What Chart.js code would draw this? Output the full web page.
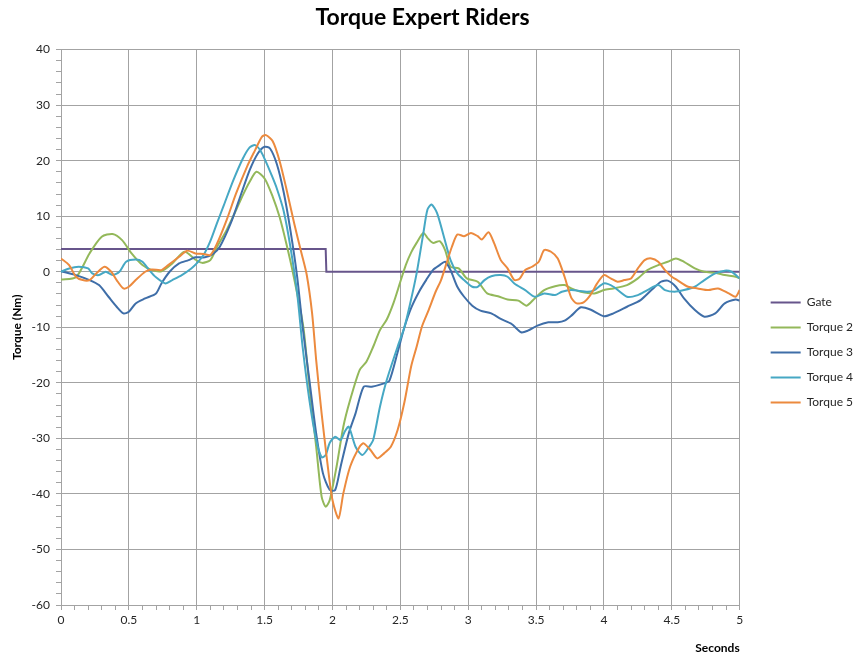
<!DOCTYPE html>
<html>
<head>
<meta charset="utf-8">
<script src="https://cdn.jsdelivr.net/npm/chart.js@4.4.1/dist/chart.umd.min.js"></script>
<style>
  html,body{margin:0;padding:0;background:#fff;}
  #wrap{width:853px;height:655px;}
</style>
</head>
<body>
<div id="wrap"><canvas id="c" width="853" height="655"></canvas></div>
<script>
// gate signal: 4.1 until ~1.95 s, then 0
const tGate = [0, 1.95, 1.955, 5];
const gate  = [4.1, 4.1, 0, 0];

// Torque 2
const t2 = [0,0.11,0.21,0.3,0.38, 0.45,0.52,0.6,0.67,0.74, 0.82,0.91,0.99,1.04,1.1, 1.15,1.22,1.29,1.34,1.39,
  1.44,1.5,1.56,1.61,1.66, 1.71,1.785,1.83,1.88,1.92, 1.95,1.98,2.03,2.08,2.13, 2.2,2.25,2.3,2.35,2.4,
  2.45,2.5,2.54,2.58,2.62, 2.67,2.7,2.74,2.79,2.83, 2.87,2.93,2.99,3.07,3.14, 3.22,3.29,3.37,3.43,3.49,
  3.56,3.64,3.71,3.76,3.83, 3.93,4.0,4.07,4.17,4.25, 4.32,4.4,4.47,4.53,4.59, 4.67,4.74,4.82,4.89,4.97, 5.0];
const torque2 = [-1.4,-1,3.3,6.3,6.8, 5.7,3.3,1.2,0.3,0.1, 1.5,3.6,2.2,1.6,2.1, 4.5,7.5,11.1,13.8,16.2,
  18.0,16.8,13.5,9.9,5.1, -0.3,-9.9,-20.7,-31.5,-40.5, -42.3,-41.1,-35.1,-27.9,-23.1, -17.7,-16.2,-13.5,-10.5,-8.6,
  -5.6,-1.8,1.2,3.5,5.2, 7.0,6.1,5.2,5.5,3.9, 0.9,0.6,-1.2,-1.8,-3.9, -4.4,-5.0,-5.2,-6.1,-4.8,
  -3.3,-2.6,-2.4,-3.0,-3.6, -3.9,-3.3,-3.0,-2.4,-1.2, 0.3,1.2,1.8,2.4,1.8, 0.6,0,-0.2,-0.6,-0.9, -1.2];

// Torque 3
const t3 = [0,0.11,0.21,0.28,0.35, 0.41,0.46,0.5,0.55,0.62, 0.7,0.74,0.8,0.87,0.94, 0.99,1.06,1.12,1.17,1.25,
  1.32,1.39,1.45,1.5,1.54, 1.59,1.64,1.69,1.74,1.78, 1.83,1.88,1.93,1.98,2.02, 2.06,2.12,2.17,2.23,2.29,
  2.38,2.42,2.48,2.53,2.58, 2.64,2.69,2.74,2.79,2.83, 2.87,2.92,2.97,3.03,3.09, 3.17,3.24,3.32,3.39,3.44,
  3.51,3.59,3.66,3.71,3.76, 3.83,3.9,4.0,4.07,4.17, 4.27,4.35,4.42,4.47,4.53, 4.59,4.67,4.74,4.82,4.89, 4.97,5.0];
const torque3 = [0.1,-0.6,-1.5,-2.4,-4.5, -6.3,-7.5,-7.2,-5.7,-4.8, -3.9,-2.1,0,1.5,2.1, 2.6,2.6,3.2,4.5,8.7,
  13.5,18.3,21.3,22.5,22.2, 19.4,14.4,7.5,-0.9,-9.9, -19.5,-29.1,-36.3,-39.3,-39.3, -35.1,-29.1,-25.5,-20.7,-20.7,
  -20.1,-19.6,-14.5,-10,-6.5, -3.5,-1.5,0.3,1.2,1.8, 0.3,-2.7,-4.5,-6.1,-7.0, -7.5,-8.5,-9.4,-10.9,-10.6,
  -9.7,-9.1,-9.1,-8.8,-7.9, -6.4,-6.8,-8.0,-7.5,-6.3, -5.1,-3.3,-1.8,-1.6,-2.7, -4.8,-6.9,-8.1,-7.5,-5.7, -5.0,-5.2];

// Torque 4
const t4 = [0,0.06,0.13,0.2,0.23, 0.28,0.33,0.38,0.43,0.48, 0.55,0.6,0.65,0.7,0.77, 0.82,0.89,0.96,1.0,1.05,
  1.1,1.15,1.2,1.27,1.34, 1.39,1.43,1.47,1.51,1.55, 1.59,1.64,1.69,1.74,1.78, 1.83,1.88,1.92,1.95,1.98,
  2.02,2.06,2.09,2.12,2.17, 2.22,2.27,2.3,2.35,2.4, 2.48,2.53,2.57,2.62,2.67, 2.7,2.73,2.77,2.82,2.87,
  2.92,2.97,3.03,3.07,3.12, 3.17,3.24,3.29,3.34,3.42, 3.49,3.56,3.64,3.69,3.76, 3.88,3.93,4.0,4.07,4.17,
  4.25,4.32,4.4,4.45,4.52, 4.59,4.67,4.74,4.82,4.89, 4.94,5.0];
const torque4 = [0,0.6,0.9,0.6,-0.3, -0.6,0,-0.6,0,1.8, 2.2,1.8,0.3,-1.0,-2.1, -1.5,-0.6,0.6,1.5,3.0,
  5.5,8.8,12.0,16.5,20.4, 22.4,22.8,21.8,19.8,17.5, 15.0,11.0,4.5,-3.9,-13.5, -23.1,-30.3,-33.4,-33.0,-30.8,
  -29.7,-30.3,-28.8,-27.9,-31.5, -33.0,-31.5,-30.3,-24.3,-19.5, -13.5,-10,-6,-0.3,7.0, 11.2,12.1,10.6,6.4,2.1,
  -0.3,-1.5,-2.7,-2.7,-1.5, -0.8,-0.6,-0.9,-2.1,-3.3, -4.5,-3.9,-4.2,-3.6,-3.3, -3.6,-3.3,-2.1,-2.7,-4.5,
  -4.2,-3.3,-2.4,-3.3,-3.6, -3.3,-2.7,-1.5,-0.3,0.2, 0,-1.2];

// Torque 5
const t5 = [0,0.06,0.11,0.16,0.21, 0.26,0.32,0.37,0.41,0.46, 0.5,0.55,0.62,0.67,0.74, 0.79,0.87,0.93,0.99,1.05,
  1.1,1.15,1.22,1.29,1.37, 1.43,1.48,1.51,1.56,1.61, 1.66,1.72,1.77,1.81,1.85, 1.88,1.92,1.96,2.0,2.045,
  2.08,2.13,2.2,2.23,2.28, 2.33,2.38,2.43,2.48,2.53, 2.58,2.62,2.66,2.71,2.76, 2.8,2.84,2.88,2.92,2.97,
  3.02,3.07,3.1,3.15,3.19, 3.24,3.29,3.34,3.38,3.42, 3.47,3.52,3.56,3.61,3.66, 3.71,3.76,3.8,3.85,3.9,
  3.95,4.0,4.05,4.1,4.15, 4.2,4.25,4.3,4.35,4.4, 4.45,4.5,4.54,4.62,4.69, 4.77,4.84,4.92,4.97,5.0];
const torque5 = [2.4,1.2,-0.9,-1.5,-1.5, -0.3,0.9,0,-1.5,-3.0, -2.7,-1.5,0,0.4,0.3, 1.2,2.7,3.8,3.3,3.2,
  3.0,5.1,9.3,14.1,18.9, 21.9,24.3,24.6,23.5,20.0, 15.0,8.5,3.5,-0.5,-7.5, -15.9,-25.5,-33.9,-41.1,-44.4,
  -39.9,-35.1,-31.5,-30.9,-32.1, -33.6,-32.7,-31.5,-28.5,-23.5, -17,-13.5,-9.8,-6.8,-3.6, -1.5,1.5,4.5,6.7,6.4,
  7.0,6.4,5.8,7.1,5.2, 2.1,0.6,-1.5,-1.2,0.3, 0.9,1.8,3.9,3.6,2.4, -0.9,-4.7,-5.7,-5.5,-4.2,
  -2.1,-0.6,-1.2,-1.8,-1.5, -1.2,0.6,2.1,2.4,1.8, 0.3,-0.9,-1.5,-2.7,-3.0, -3.3,-3.0,-3.9,-4.5,-3.3];

const yTicks = {min:-60, max:40, major:10, minor:2};
const xTicks = {min:0, max:5, major:0.5, minor:0.1};

function pts(ts, vs){ return ts.map((t,i)=>({x:t, y:vs[i]})); }

function isMajor(v, step){
  const r = v/step;
  return Math.abs(r - Math.round(r)) < 1e-6;
}

const FONT = 'Lato, "Open Sans", sans-serif';
const GRID = '#a3a3a3';
Chart.defaults.font.family = FONT;
Chart.defaults.color = '#262626';

function line(label, data, color, order, tension){
  return {
    label, data, order,
    borderColor: color, backgroundColor: color,
    borderWidth: 2, pointRadius: 0, tension: tension
  };
}

// nudge the legend to the right edge, chart area stays where it is
const legendShift = {
  id: 'legendShift',
  afterLayout(chart){
    const lg = chart.legend;
    if(lg){ lg.left += 18; lg.right += 18; }
  }
};

new Chart(document.getElementById('c'), {
  type: 'line',
  data: {
    datasets: [
      line('Gate', pts(tGate, gate), '#67558b', 4, 0),
      line('Torque 2', pts(t2, torque2), '#93b85a', 3, 0.25),
      line('Torque 3', pts(t3, torque3), '#3f6ea8', 2, 0.25),
      line('Torque 4', pts(t4, torque4), '#46a8c4', 1, 0.25),
      line('Torque 5', pts(t5, torque5), '#ec8a3e', 0, 0.25)
    ]
  },
  plugins: [legendShift],
  options: {
    responsive: false,
    animation: false,
    layout: {padding: {top: 0, right: 8, bottom: 0, left: 0}},
    plugins: {
      title: {
        display: true,
        text: 'Torque Expert Riders',
        color: '#000',
        font: {size: 23, weight: 'bold', family: FONT},
        padding: {top: 4, bottom: 18}
      },
      legend: {
        position: 'right',
        title: {display: true, text: ' ', font: {size: 10}, padding: {top: 0, bottom: 38}},
        labels: {
          usePointStyle: true,
          pointStyle: 'line',
          pointStyleWidth: 30,
          boxHeight: 12,
          padding: 13,
          color: '#262626',
          font: {size: 12, family: FONT},
          sort: (a, b) => a.datasetIndex - b.datasetIndex
        }
      },
      tooltip: {enabled: false}
    },
    scales: {
      x: {
        type: 'linear',
        min: xTicks.min, max: xTicks.max,
        afterFit(s){ s.height = 50; },
        border: {color: GRID},
        grid: {
          color: c => isMajor(c.tick.value, xTicks.major) ? GRID : 'rgba(0,0,0,0)',
          tickColor: GRID,
          tickLength: 5
        },
        ticks: {
          stepSize: xTicks.minor,
          autoSkip: false,
          maxRotation: 0,
          padding: 3,
          color: '#262626',
          font: {size: 12},
          callback: v => isMajor(v, xTicks.major) ? String(Math.round(v*10)/10) : ''
        },
        title: {
          display: true,
          text: 'Seconds',
          align: 'end',
          color: '#000',
          font: {size: 12, weight: 'bold'},
          padding: {top: 3, bottom: 0}
        }
      },
      y: {
        min: yTicks.min, max: yTicks.max,
        afterFit(s){ s.width = 61; },
        border: {color: GRID},
        grid: {
          color: c => isMajor(c.tick.value, yTicks.major) ? GRID : 'rgba(0,0,0,0)',
          tickColor: GRID,
          tickLength: 5
        },
        ticks: {
          stepSize: yTicks.minor,
          autoSkip: false,
          padding: 6,
          color: '#262626',
          font: {size: 12},
          callback: v => isMajor(v, yTicks.major) ? String(v) : ''
        },
        title: {
          display: true,
          text: 'Torque (Nm)',
          color: '#000',
          font: {size: 12, weight: 'bold'},
          padding: {top: 10, bottom: 0}
        }
      }
    }
  }
});
</script>
</body>
</html>
